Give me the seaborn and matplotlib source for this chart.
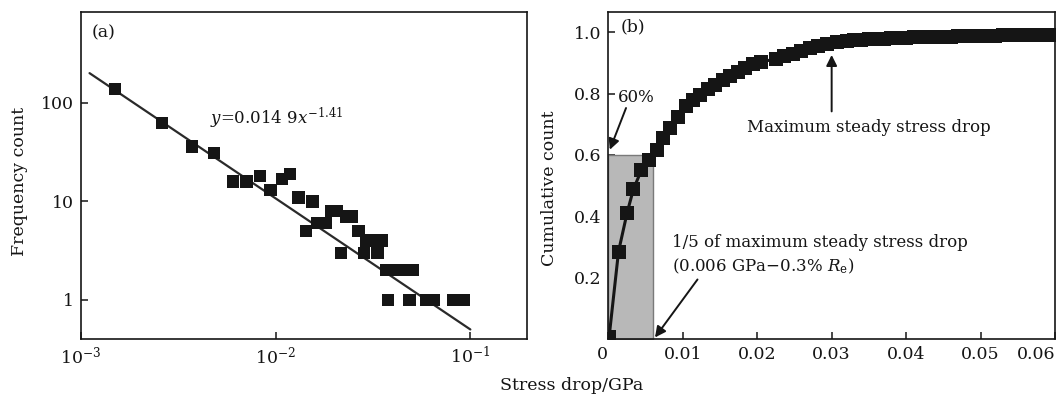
import numpy as np
import pandas as pd
import seaborn as sns
import matplotlib.pyplot as plt

# (a) frequency of stress drops (log-log)
drop_a = [0.00150, 0.00261, 0.00372, 0.00483, 0.00603, 0.00711, 0.00832, 0.00944,
          0.01076, 0.01186, 0.01309, 0.01429, 0.01545, 0.01633, 0.01815, 0.01928,
          0.0207, 0.0217, 0.0230, 0.0247, 0.0267, 0.0284, 0.0292, 0.0321, 0.0334,
          0.0352, 0.0369, 0.0410, 0.0457, 0.0508, 0.0379, 0.0486, 0.0593, 0.0651,
          0.0815, 0.0928]
count_a = [139, 63, 36, 31, 16, 16, 18, 13,
           17, 19, 11, 5, 10, 6, 6, 8,
           8, 3, 7, 7, 5, 3, 4, 4, 3,
           4, 2, 2, 2, 2, 1, 1, 1, 1,
           1, 1]
fit_x = [0.00111, 0.1]
fit_y = [201, 0.5]

# (b) cumulative count
drop_b = [0.0001, 0.00137, 0.00252, 0.00338, 0.00444, 0.00549, 0.00650, 0.00732,
          0.00833, 0.00933, 0.01038, 0.01144, 0.01235, 0.01336, 0.01436, 0.01541,
          0.01633, 0.01738, 0.01839, 0.01939, 0.02045, 0.0225, 0.02365, 0.02479,
          0.02594, 0.02708, 0.02822, 0.02937, 0.03074,
          0.032, 0.033, 0.034, 0.035, 0.036, 0.037, 0.038, 0.039, 0.040, 0.041,
          0.042, 0.043, 0.044, 0.045, 0.046, 0.047, 0.048, 0.049, 0.050, 0.051,
          0.052, 0.053, 0.054, 0.055, 0.056, 0.057, 0.058, 0.059, 0.060, 0.061, 0.062]
cum_b = [0.005, 0.285, 0.411, 0.489, 0.550, 0.582, 0.617, 0.655,
         0.688, 0.724, 0.760, 0.780, 0.796, 0.815, 0.829, 0.845,
         0.859, 0.872, 0.883, 0.897, 0.904, 0.912, 0.921, 0.930,
         0.940, 0.948, 0.956, 0.962, 0.968,
         0.972, 0.974, 0.976, 0.977, 0.978, 0.979, 0.980, 0.981, 0.982, 0.983,
         0.984, 0.985, 0.985, 0.986, 0.986, 0.987, 0.987, 0.988, 0.988, 0.989,
         0.989, 0.990, 0.990, 0.990, 0.991, 0.991, 0.991, 0.992, 0.992, 0.992, 0.993]
shade_x = [0, 0.006]
shade_top = 0.6

sns.set_theme(style="ticks")
plt.rcParams['font.family'] = ['DejaVu Serif']
plt.rcParams['mathtext.fontset'] = 'dejavuserif'
plt.rcParams['axes.linewidth'] = 1.2
ink = '#151515'

fig = plt.figure(figsize=(10.62, 3.94), dpi=100)
ax1 = fig.add_axes([0.0760, 0.1396, 0.4205, 0.8299])
ax2 = fig.add_axes([0.5728, 0.1396, 0.4206, 0.8307])

# ---- panel a
dfa = pd.DataFrame({'drop': drop_a, 'count': count_a})
sns.lineplot(x=fit_x, y=fit_y, ax=ax1, color='#2a2a2a', linewidth=1.6)
sns.scatterplot(data=dfa, x='drop', y='count', ax=ax1, marker='s', s=80,
                color=ink, edgecolor='none', zorder=3)
ax1.set_xscale('log')
ax1.set_yscale('log')
ax1.set_xlim(0.001, 0.196)
ax1.set_ylim(0.40, 840)
ax1.set_xticks([1e-3, 1e-2, 1e-1])
ax1.set_xticklabels([r'$10^{-3}$', r'$10^{-2}$', r'$10^{-1}$'])
ax1.set_yticks([1, 10, 100])
ax1.set_yticklabels(['1', '10', '100'])
ax1.minorticks_off()
ax1.set_xlabel('')
ax1.set_ylabel('Frequency count', fontsize=12.5, color=ink)
ax1.yaxis.set_label_coords(-0.118, 0.483)
ax1.text(0.024, 0.935, '(a)', transform=ax1.transAxes, fontsize=12.5, va='center', color=ink)
ax1.text(0.29, 0.676, r'$y$=0.014 9$x^{-1.41}$', transform=ax1.transAxes,
         fontsize=12, va='center', color=ink)

# ---- panel b
ax2.fill_between(shade_x, 0, shade_top, color='#b8b8b8', edgecolor='#7a7a7a',
                 linewidth=1.0, zorder=1)
dfb = pd.DataFrame({'drop': drop_b, 'cum': cum_b})
sns.lineplot(data=dfb, x='drop', y='cum', ax=ax2, color=ink, linewidth=2.2,
             marker='s', markersize=9.5, markeredgewidth=0, zorder=3)
ax2.set_xlim(0, 0.06)
ax2.set_ylim(0, 1.067)
ax2.set_xticks([0, 0.01, 0.02, 0.03, 0.04, 0.05, 0.06])
ax2.set_xticklabels(['0', '0.01', '0.02', '0.03', '0.04', '0.05', '0.06'])
ax2.set_yticks([0.2, 0.4, 0.6, 0.8, 1.0])
ax2.set_yticklabels(['0.2', '0.4', '0.6', '0.8', '1.0'])
ax2.set_xlabel('')
ax2.set_ylabel('Cumulative count', fontsize=12.5, color=ink)
ax2.yaxis.set_label_coords(-0.113, 0.461)
xl = ax2.get_xticklabels()
xl[0].set_horizontalalignment('right')
xl[-1].set_horizontalalignment('right')

ax2.text(0.028, 0.953, '(b)', transform=ax2.transAxes, fontsize=12.5, va='center', color=ink)
ax2.text(0.022, 0.738, '60%', transform=ax2.transAxes, fontsize=12, va='center', color=ink)
arrow = dict(arrowstyle='-|>', color=ink, lw=1.4, mutation_scale=16, shrinkA=0, shrinkB=0)
ax2.annotate('', xy=(0.0002, 0.617), xytext=(0.00238, 0.753), arrowprops=arrow)
ax2.annotate('', xy=(0.030, 0.926), xytext=(0.030, 0.742), arrowprops=arrow)
ax2.text(0.03495, 0.688, 'Maximum steady stress drop', fontsize=12, ha='center',
         va='center', color=ink)
ax2.text(0.00856, 0.314, '1/5 of maximum steady stress drop', fontsize=12,
         va='center', color=ink)
ax2.text(0.00856, 0.238, r'(0.006 GPa$-$0.3% $R_{\mathrm{e}}$)', fontsize=12,
         va='center', color=ink)
ax2.annotate('', xy=(0.00627, 0.005), xytext=(0.01198, 0.194), arrowprops=arrow)

for ax in (ax1, ax2):
    ax.tick_params(direction='in', length=5, width=1.1, labelsize=12.5, colors=ink,
                   top=False, right=False, pad=5)
    for sp in ax.spines.values():
        sp.set_visible(True)
        sp.set_color(ink)

fig.text(572 / 1062, 1 - 385 / 394, 'Stress drop/GPa', fontsize=12.5, ha='center',
         va='center', color=ink)

fig.savefig('out.png', dpi=100)
